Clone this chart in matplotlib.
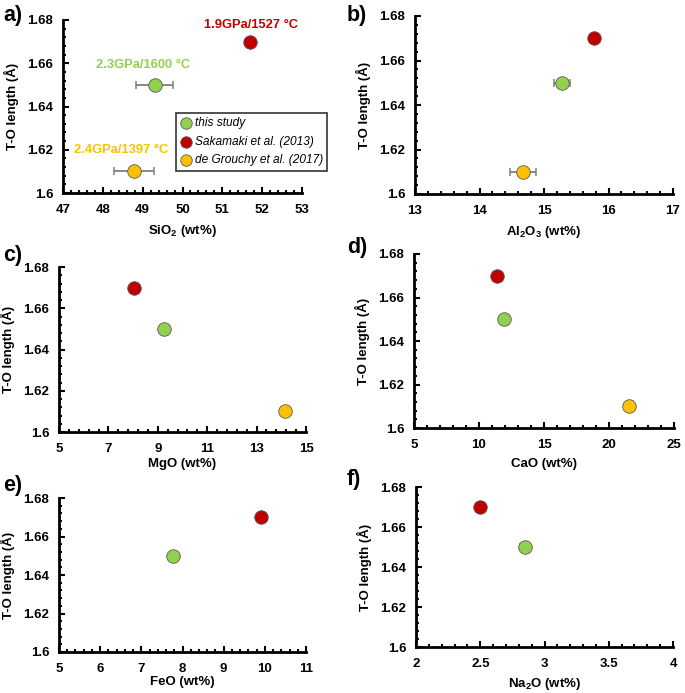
import matplotlib
matplotlib.use('Agg')
import matplotlib.pyplot as plt
import numpy as np
from matplotlib.ticker import AutoMinorLocator

plt.rcParams['font.family'] = ['Liberation Sans', 'DejaVu Sans']
plt.rcParams['font.weight'] = 'bold'
plt.rcParams['mathtext.fontset'] = 'custom'
plt.rcParams['mathtext.rm'] = 'Liberation Sans:bold'
plt.rcParams['mathtext.bf'] = 'Liberation Sans:bold'

# T-O length (A) for each study
names = ['this study', 'Sakamaki et al. (2013)', 'de Grouchy et al. (2017)']
colors = ['#92D050', '#C00000', '#FFC000']
to_length = [1.65, 1.67, 1.61]

# oxide contents (wt%) per study, None = not reported
sio2 = [49.3, 51.69, 48.78]
sio2_err = [0.47, 0, 0.5]
al2o3 = [15.28, 15.78, 14.67]
al2o3_err = [0.12, 0, 0.2]
mgo = [9.25, 8.05, 14.15]
mgo_err = [0, 0, 0.12]
cao = [11.9, 11.4, 21.5]
cao_err = [0, 0, 0]
feo = [7.78, 9.9, None]
feo_err = [0.1, 0, 0]
na2o = [2.85, 2.5, None]
na2o_err = [0.04, 0, 0]

conditions = ['2.3GPa/1600 °C', '1.9GPa/1527 °C', '2.4GPa/1397 °C']
cond_x = [49.0, 51.72, 48.46]
cond_y = [1.6592, 1.6777, 1.6199]

panels = [
    ('a)', sio2, sio2_err, r'SiO$_\mathbf{2}$ (wt%)', (47, 53), 1),
    ('b)', al2o3, al2o3_err, r'Al$_\mathbf{2}$O$_\mathbf{3}$ (wt%)', (13, 17), 1),
    ('c)', mgo, mgo_err, 'MgO (wt%)', (5, 15), 2),
    ('d)', cao, cao_err, 'CaO (wt%)', (5, 25), 5),
    ('e)', feo, feo_err, 'FeO (wt%)', (5, 11), 1),
    ('f)', na2o, na2o_err, r'Na$_\mathbf{2}$O (wt%)', (2, 4), 0.5),
]

W, H = 685, 693
# axes boxes in pixels: left, right, top, bottom
boxes = [
    (63, 302, 20, 193),
    (415, 673, 16, 194),
    (59, 306, 267, 432),
    (414, 674, 254, 428),
    (59, 306, 498, 652),
    (416, 673, 487, 647),
]
# panel letter positions (pixels) and x label padding
letter_pos = [(3, 16), (347, 15), (3, 255), (347, 247), (3, 485), (347, 480)]
xlabel_pad = [5, 5, 2, 5, 1, 4]

fig = plt.figure(figsize=(W / 100, H / 100), dpi=100)

for k, ((lab, xs, xerr, xlabel, xlim, major), (l, r, t, b)) in enumerate(zip(panels, boxes)):
    ax = fig.add_axes([l / W, 1 - b / H, (r - l) / W, (b - t) / H])
    for i in range(3):
        if xs[i] is None:
            continue
        if xerr[i] > 0:
            ax.errorbar(xs[i], to_length[i], xerr=xerr[i], fmt='none',
                        ecolor='#7F7F7F', elinewidth=1.3, capsize=3, capthick=1.1, zorder=2)
        ax.scatter(xs[i], to_length[i], s=95, color=colors[i], edgecolors='#595959',
                   linewidths=0.6, zorder=3, label=names[i])
    ax.set_xlim(*xlim)
    ax.set_ylim(1.6, 1.68)
    xt = np.arange(xlim[0], xlim[1] + major / 2, major)
    ax.set_xticks(xt)
    ax.set_xticklabels(['%g' % v for v in xt])
    ax.xaxis.set_minor_locator(AutoMinorLocator(5))
    ax.set_yticks([1.6, 1.62, 1.64, 1.66, 1.68])
    ax.set_yticklabels(['1.6', '1.62', '1.64', '1.66', '1.68'])
    ax.yaxis.set_minor_locator(AutoMinorLocator(5))
    for s in ['top', 'right']:
        ax.spines[s].set_visible(False)
    for s in ['left', 'bottom']:
        ax.spines[s].set_linewidth(2)
    ax.tick_params(which='major', direction='in', length=4, width=1.5, labelsize=9.5)
    ax.tick_params(axis='x', which='major', pad=8)
    ax.tick_params(axis='y', which='major', pad=7)
    ax.tick_params(which='minor', direction='in', length=2.5, width=1.5)
    ax.set_xlabel(xlabel, fontsize=9.5, fontweight='bold', labelpad=xlabel_pad[k])
    ax.set_ylabel('T-O length (Å)', fontsize=9.5, fontweight='bold', labelpad=6)
    lx, ly = letter_pos[k]
    fig.text(lx / W, 1 - ly / H, lab, fontsize=15.5, fontweight='bold', va='center')

    if lab == 'a)':
        for i in range(3):
            ax.text(cond_x[i], cond_y[i], conditions[i], color=colors[i], fontsize=9.3,
                    fontweight='bold', ha='center', va='center')
        leg = ax.legend(loc='upper left', bbox_to_anchor=(0.473, 0.462), frameon=True,
                        fancybox=False, edgecolor='black', handletextpad=0.3,
                        borderpad=0.35, borderaxespad=0, labelspacing=0.55,
                        handlelength=0.9, markerscale=0.85,
                        prop={'style': 'italic', 'weight': 'normal', 'size': 8.6})
        leg.get_frame().set_linewidth(1.2)

fig.savefig('out.png', dpi=100)
